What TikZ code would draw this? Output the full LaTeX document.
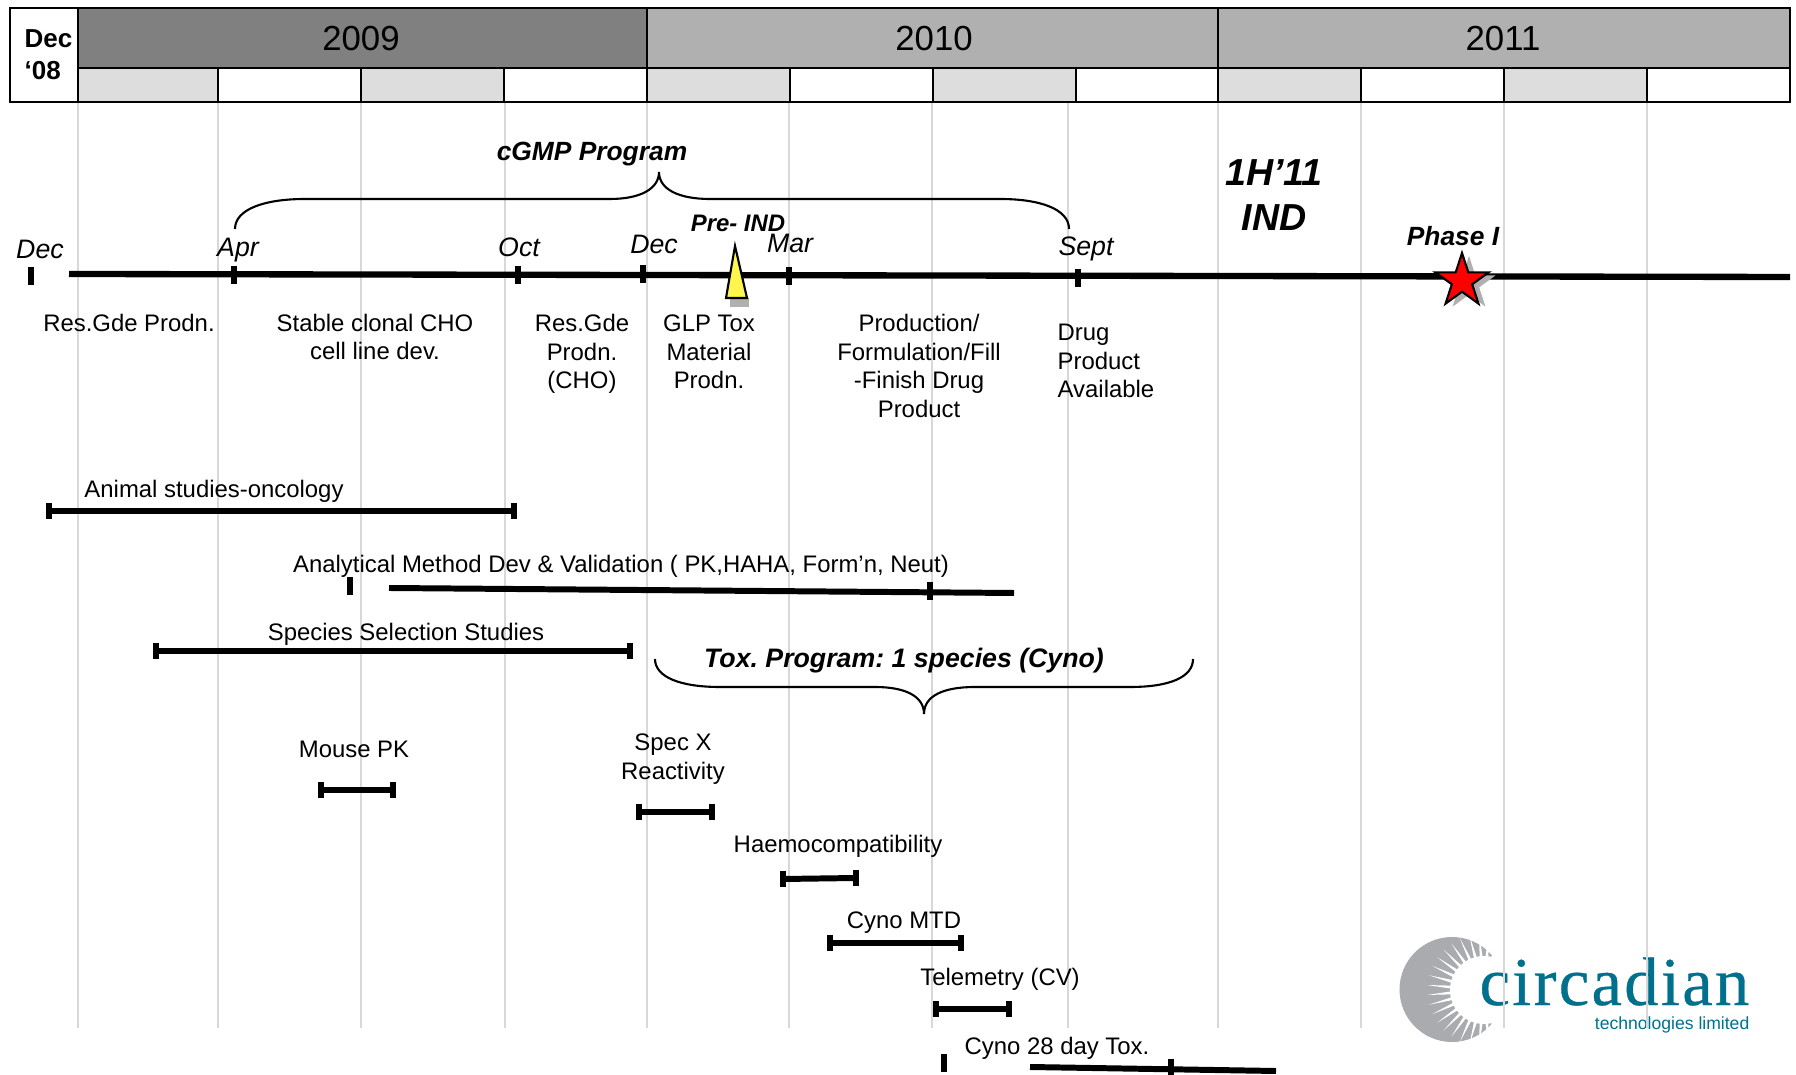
\documentclass[tikz,border=0pt]{standalone}
\usepackage{fontspec}
\setmainfont{Liberation Sans}
\newfontfamily\logofont[LetterSpace=3.4,FakeBold=0.5]{Liberation Serif}
\usetikzlibrary{shapes.geometric}
\definecolor{darkyear}{HTML}{808080}
\definecolor{lightyear}{HTML}{B0B0B0}
\definecolor{quarter}{HTML}{DDDDDD}
\definecolor{gridgray}{HTML}{D8D8D8}
\definecolor{logogray}{HTML}{A9ABAE}
\definecolor{logoteal}{HTML}{00708C}
\tikzset{
  lbl/.style={font=\fontsize{6.8}{8.1}\selectfont,align=center,inner sep=0pt},
  month/.style={font=\fontsize{7.6}{9}\selectfont\itshape,inner sep=0pt},
  head/.style={font=\fontsize{7.5}{9}\selectfont\bfseries\itshape,inner sep=0pt},
  year/.style={font=\fontsize{9.9}{12}\selectfont,inner sep=0pt},
  hbar/.style={line width=1.7pt},
  vtick/.style={line width=1.7pt},
  brace/.style={line width=0.6pt}
}
\begin{document}
\frenchspacing
\begin{tikzpicture}
    \useasboundingbox (0,0) rectangle (17.96,10.74);
    % logo
    \fill[logogray] (14.52,0.845) circle (0.525);
    \fill[white] (14.84,0.84) circle (0.34);
    \foreach \a in {55,65,...,305}
        \fill[white,shift={(14.84,0.84)}] (\a-2.6:0.33) -- (\a:0.57) -- (\a+2.6:0.33) -- cycle;
    \node[anchor=base east,inner sep=0pt,text=logoteal,font=\logofont\fontsize{19.5}{20}\selectfont] (logoname) at (17.50,0.69) {circadian};
    \node[anchor=east,inner sep=0pt,text=logoteal,font=\fontsize{5.0}{6}\selectfont] (logosub) at (17.50,0.49) {technologies limited};
    % vertical grid
    \foreach \x in {0.78,2.18,3.61,5.05,6.47,7.89,9.32,10.68,12.18,13.61,15.04,16.47}
        \draw[gridgray,line width=0.5pt] (\x,9.72) -- (\x,0.46);
    % header
    \draw[line width=0.6pt,fill=white] (0.10,10.66) rectangle (0.78,9.72);
    \node[anchor=west,align=left,inner sep=0pt,font=\fontsize{7.4}{9}\selectfont\bfseries] (start) at (0.24,10.19) {Dec\\‘08};
    \draw[line width=0.7pt,fill=darkyear] (0.78,10.66) rectangle (6.47,10.06);
    \draw[line width=0.7pt,fill=lightyear] (6.47,10.66) rectangle (12.18,10.06);
    \draw[line width=0.7pt,fill=lightyear] (12.18,10.66) rectangle (17.90,10.06);
    \foreach \xa/\xb/\c in {0.78/2.18/quarter,2.18/3.61/white,3.61/5.04/quarter,5.04/6.47/white,6.47/7.90/quarter,7.90/9.33/white,9.33/10.76/quarter,10.76/12.18/white,12.18/13.61/quarter,13.61/15.04/white,15.04/16.47/quarter,16.47/17.90/white}
        \draw[line width=0.6pt,fill=\c] (\xa,10.06) rectangle (\xb,9.72);
    \node[year] (y2009) at (3.61,10.35) {2009};
    \node[year] (y2010) at (9.34,10.35) {2010};
    \node[year] (y2011) at (15.03,10.35) {2011};
    % main line
    \draw[line width=1.8pt] (0.69,8.00) -- (17.90,7.97);
    \foreach \x/\y in {0.31/7.98,2.34/7.99,5.18/7.99,6.43/8.00,7.89/7.98,10.78/7.96}
        \draw[vtick] (\x,\y+0.09) -- (\x,\y-0.09);
    \node[month] (m1) at (0.40,8.25) {Dec};
    \node[month] (m2) at (2.38,8.24) {Apr};
    \node[month] (m3) at (5.19,8.27) {Oct};
    \node[month] (m4) at (6.54,8.30) {Dec};
    \node[month] (m5) at (7.90,8.31) {Mar};
    \node[month] (m6) at (10.86,8.25) {Sept};
    % cGMP brace
    \node[head] (cgmp) at (5.92,9.20) {cGMP Program};
    \draw[brace] (2.35,8.45) .. controls (2.35,8.65) and (2.65,8.75) .. (3.05,8.75) -- (6.10,8.75)
        .. controls (6.40,8.75) and (6.59,8.85) .. (6.59,9.02)
        .. controls (6.59,8.85) and (6.78,8.75) .. (7.10,8.75) -- (10.00,8.75)
        .. controls (10.40,8.75) and (10.69,8.65) .. (10.69,8.45);
    \node[head,font=\fontsize{6.8}{8}\selectfont\bfseries\itshape] (preind) at (7.38,8.51) {Pre- IND};
    \fill[lightyear] (7.30,7.67) rectangle (7.49,7.76);
    \draw[line width=0.6pt,fill=yellow!70,line join=miter] (7.35,8.28) -- (7.26,7.76) -- (7.47,7.76) -- cycle;
    \node[anchor=center,align=center,inner sep=0pt,font=\fontsize{10.7}{12.8}\selectfont\bfseries\itshape] (ind) at (12.74,8.79) {1H’11\\IND};
    \node[head] (phase) at (14.53,8.38) {Phase I};
    \node[star,star points=5,star point ratio=2.618,minimum size=0.56cm,inner sep=0pt,fill=lightyear] (starsh) at (14.69,7.90) {};
    \node[star,star points=5,star point ratio=2.618,minimum size=0.56cm,inner sep=0pt,draw,line width=0.6pt,fill=red] (phasestar) at (14.62,7.93) {};
    % labels under the line
    \node[lbl] (t1) at (1.29,7.51) {Res.Gde Prodn.};
    \node[lbl] (t2) at (3.75,7.37) {Stable clonal CHO\\cell line dev.};
    \node[lbl] (t3) at (5.82,7.20) {Res.Gde\\Prodn.\\(CHO)};
    \node[lbl] (t4) at (7.09,7.22) {GLP Tox\\Material\\Prodn.};
    \node[lbl] (t5) at (9.19,7.08) {Production/\\Formulation/Fill\\-Finish Drug\\Product};
    \node[lbl,anchor=west,align=left] (t6) at (10.57,7.13) {Drug\\Product\\Available};
    % studies
    \node[lbl] (s1) at (2.14,5.83) {Animal studies-oncology};
    \node[lbl] (s2) at (6.21,5.08) {Analytical Method Dev \& Validation ( PK,HAHA, Form’n, Neut)};
    \node[lbl] (s3) at (4.06,4.40) {Species Selection Studies};
    \node[head,font=\fontsize{7.6}{9}\selectfont\bfseries\itshape] (tox) at (9.04,4.13) {Tox. Program: 1 species (Cyno)};
    \node[lbl] (s4) at (3.54,3.25) {Mouse PK};
    \node[lbl] (s5) at (6.73,3.15) {Spec X\\Reactivity};
    \node[lbl] (s6) at (8.38,2.28) {Haemocompatibility};
    \node[lbl] (s7) at (9.04,1.51) {Cyno MTD};
    \node[lbl] (s8) at (10.00,0.95) {Telemetry (CV)};
    \node[lbl] (s9) at (10.57,0.26) {Cyno 28 day Tox.};
    \draw[brace] (6.55,4.15) .. controls (6.55,3.97) and (6.80,3.87) .. (7.20,3.87) -- (8.75,3.87)
        .. controls (9.05,3.87) and (9.24,3.78) .. (9.24,3.60)
        .. controls (9.24,3.78) and (9.43,3.87) .. (9.75,3.87) -- (11.30,3.87)
        .. controls (11.70,3.87) and (11.93,3.97) .. (11.93,4.15);
    % bars
    \foreach \xa/\ya/\xb/\yb in {0.49/5.63/5.14/5.63,1.56/4.23/6.30/4.23,3.21/2.84/3.93/2.84,6.39/2.62/7.12/2.62,7.83/1.95/8.56/1.96,8.30/1.31/9.61/1.31,9.36/0.65/10.09/0.65}{
        \draw[hbar] (\xa,\ya) -- (\xb,\yb);
        \draw[vtick] (\xa,\ya+0.08) -- (\xa,\ya-0.08);
        \draw[vtick] (\xb,\yb+0.08) -- (\xb,\yb-0.08);
    }
    \draw[hbar] (3.89,4.86) -- (10.14,4.81);
    \draw[hbar] (10.30,0.07) -- (12.76,0.03);
    \foreach \x/\y in {3.50/4.88,9.30/4.83,9.44/0.11,11.71/0.06}
        \draw[vtick] (\x,\y+0.09) -- (\x,\y-0.09);
\end{tikzpicture}
\end{document}
